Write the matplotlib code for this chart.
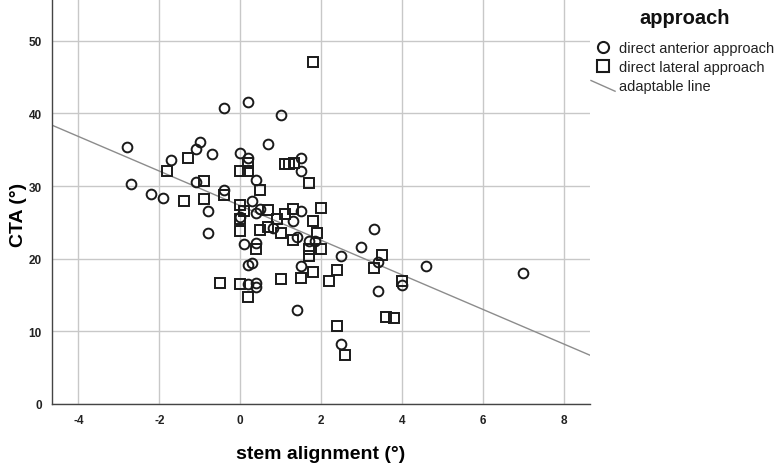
import matplotlib
matplotlib.use('Agg')
import matplotlib.pyplot as plt
import numpy as np
from matplotlib.lines import Line2D
from matplotlib.legend_handler import HandlerLine2D

plt.rcParams['font.family'] = ['Liberation Sans', 'DejaVu Sans']
plt.rcParams['axes.unicode_minus'] = False

# direct anterior approach (circles)
ant_x = [-2.8, -2.7, -2.2, -1.9, -1.7, -1.1, -1.0, -0.7, -1.1, -0.4, -0.4, -0.8, -0.8,
         0.2, 1.0, 0.0, 0.2, 0.7, 0.4, 0.3, 0.5, 0.4, 0.0, 0.82, 1.5, 1.5, 1.5, 1.3,
         1.4, 1.7, 1.85, 0.1, 0.4, 0.2, 0.3, 1.5, 0.2, 0.4, 0.4, 1.4, 2.5, 3.0, 3.3,
         3.4, 3.4, 4.0, 4.6, 7.0, 2.5]
ant_y = [35.4, 30.3, 28.9, 28.3, 33.6, 35.1, 36.1, 34.4, 30.6, 40.7, 29.5, 26.5, 23.6,
         41.5, 39.8, 34.6, 33.8, 35.8, 30.8, 27.9, 26.8, 26.3, 25.8, 24.2, 33.9, 32.0, 26.6, 25.2,
         23.0, 22.5, 22.4, 22.0, 22.1, 19.1, 19.4, 19.0, 16.5, 16.7, 16.1, 12.9, 20.4, 21.6, 24.1,
         19.6, 15.5, 16.4, 19.0, 18.0, 8.3]

# direct lateral approach (squares)
lat_x = [-1.8, -1.3, -0.9, -1.4, -0.9, -0.4, -0.5,
         0.0, 0.2, 0.2, 0.5, 1.1, 1.2, 1.33, 1.7, 1.8,
         0.0, 0.1, 0.0, 0.0, 0.5, 0.7, 0.7, 0.9, 1.1, 1.3, 1.0, 1.3, 1.8, 2.0,
         1.9, 2.0, 1.7, 1.7, 0.4, 1.8, 1.5, 1.0, 2.2, 2.4, 3.3, 3.5, 4.0, 0.0,
         0.2, 3.6, 3.8, 2.4, 2.6]
lat_y = [32.1, 33.8, 30.7, 27.9, 28.2, 28.7, 16.7,
         32.1, 32.1, 33.1, 29.5, 33.0, 33.0, 33.1, 30.4, 47.1,
         27.4, 26.5, 25.4, 23.8, 24.0, 24.3, 26.7, 25.4, 26.1, 26.8, 23.5, 22.6, 25.2, 27.0,
         23.6, 21.4, 21.3, 20.4, 21.3, 18.1, 17.4, 17.2, 16.9, 18.5, 18.7, 20.5, 16.9, 16.5,
         14.7, 12.0, 11.9, 10.8, 6.8]

# fitted line
fit_intercept = 27.3
fit_slope = -2.38

xlim = (-4.66, 8.65)
ylim = (0, 55.6)


class DiagHandler(HandlerLine2D):
    def create_artists(self, legend, orig_handle, xdescent, ydescent, width, height, fontsize, trans):
        ln = Line2D([-xdescent, -xdescent + width], [height * 0.95, -height * 0.1],
                    color=orig_handle.get_color(), lw=orig_handle.get_linewidth())
        ln.set_transform(trans)
        return [ln]


fig = plt.figure(figsize=(7.78, 4.64), dpi=100)
ax = fig.add_axes([51.7 / 778, 1 - 405 / 464, (590 - 51.7) / 778, 404 / 464])

ax.grid(True, color='#c8c8c8', linewidth=1)
ax.set_axisbelow(True)

xs = np.array(xlim)
ax.plot(xs, fit_intercept + fit_slope * xs, color='#8c8c8c', lw=1, zorder=2)

ms = 7
ax.plot(ant_x, ant_y, 'o', ms=ms, mfc='none', mec='#1a1a1a', mew=1.4, zorder=3)
ax.plot(lat_x, lat_y, 's', ms=ms, mfc='none', mec='#1a1a1a', mew=1.4, zorder=3)

ax.set_xlim(xlim)
ax.set_ylim(ylim)
ax.set_xticks([-4, -2, 0, 2, 4, 6, 8])
ax.set_yticks([0, 10, 20, 30, 40, 50])
ax.tick_params(length=0, labelsize=8.5, colors='#222222', pad=7)
for lab in ax.get_xticklabels() + ax.get_yticklabels():
    lab.set_fontweight('bold')

for s in ['top', 'right']:
    ax.spines[s].set_visible(False)
for s in ['left', 'bottom']:
    ax.spines[s].set_color('#444444')
    ax.spines[s].set_linewidth(1)

ax.set_xlabel('stem alignment (°)', fontsize=14, fontweight='bold', labelpad=14)
ax.set_ylabel('CTA (°)', fontsize=14, fontweight='bold')
ax.yaxis.set_label_coords(-0.046, 0.47)

fig.text(685 / 778, 1 - 18 / 464, 'approach', ha='center', va='center',
         fontsize=14.5, fontweight='bold', color='#111111')

h_ant = Line2D([], [], ls='none', marker='o', ms=ms + 1, mfc='none', mec='#1a1a1a', mew=1.5)
h_lat = Line2D([], [], ls='none', marker='s', ms=ms + 1, mfc='none', mec='#1a1a1a', mew=1.5)
h_fit = Line2D([], [], color='#8c8c8c', lw=1)
leg = ax.legend([h_ant, h_lat, h_fit],
                ['direct anterior approach', 'direct lateral approach', 'adaptable line'],
                handler_map={h_fit: DiagHandler()},
                loc='upper left', bbox_to_anchor=(591 / 778, 1 - 42 / 464),
                bbox_transform=fig.transFigure, frameon=False,
                fontsize=10.5, handlelength=1.65, handletextpad=0.25,
                labelspacing=0.35, borderpad=0, borderaxespad=0)
for t in leg.get_texts():
    t.set_color('#222222')

plt.savefig('out.png', dpi=100)
